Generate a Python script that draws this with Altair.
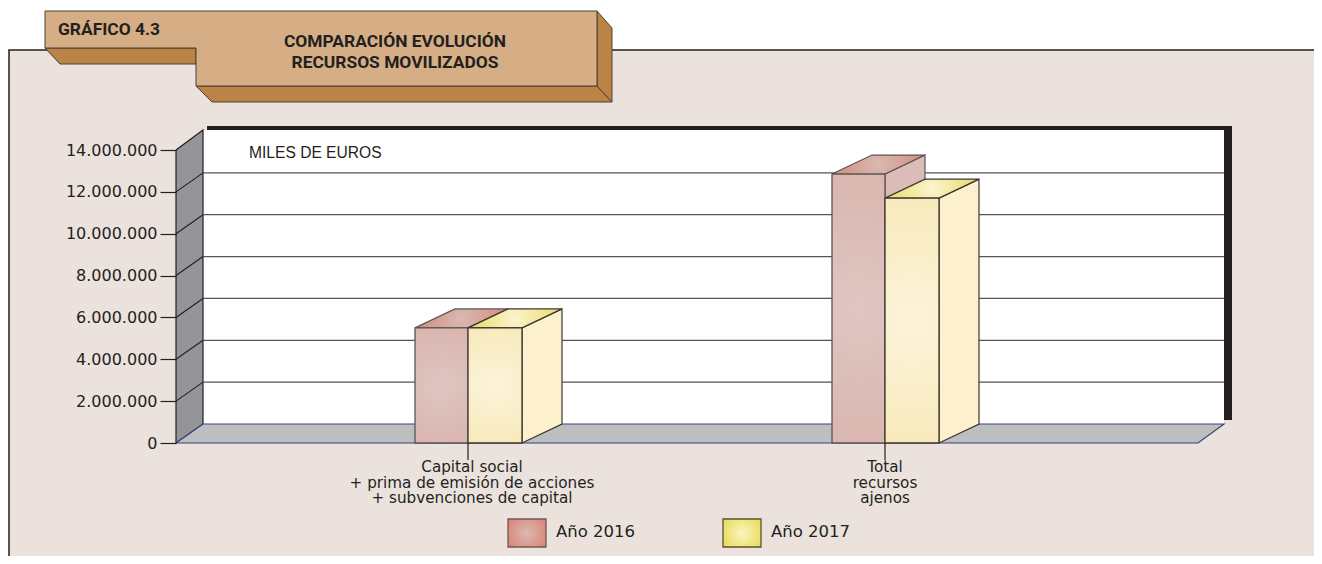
import altair as alt
import pandas as pd

# --- data -----------------------------------------------------------------
CATEGORY_LINES = [
    ["Capital social", "+ prima de emisión de acciones", "+ subvenciones de capital"],
    ["Total", "recursos", "ajenos"],
]
VALUES_2016 = [5500000, 12850000]
VALUES_2017 = [5500000, 11700000]
TICKS = [0, 2000000, 4000000, 6000000, 8000000, 10000000, 12000000, 14000000]

# --- layout ---------------------------------------------------------------
W, H = 1306, 548
Y0, Y14 = 443 - 8, 150 - 8
VMAX = 14000000
DX, DY = 40, 19           # bar depth
WDX, WDY = 27, 19         # wall depth
BAR_W = {2016: 53, 2017: 54}
CENTERS = [468, 885]
SANS = "DejaVu Sans"
TITLE = "Roboto"
INK = "#231f20"


def pv(py):
    """page y pixel to value units"""
    return (Y0 - (py - 8)) / (Y0 - Y14) * VMAX


def dv(d):
    return d / (Y0 - Y14) * VMAX


xs = alt.Scale(domain=[0, W], range=[0, W], nice=False, zero=False)
ys = alt.Scale(domain=[0, VMAX], range=[Y0, Y14], nice=False, zero=False)
YAX = alt.Axis(
    values=TICKS, orient="left", offset=-168, title=None, domain=False, grid=False,
    zindex=1, tickColor=INK, tickSize=16, tickWidth=1.2, labelPadding=3,
    labelFont=SANS, labelFontSize=16, labelColor=INK,
    labelExpr="replace(format(datum.value, ','), /,/g, '.')")
XE = lambda f="x": alt.X(f"{f}:Q", scale=xs, axis=None)
YE = lambda f="y": alt.Y(f"{f}:Q", scale=ys, axis=YAX)


def poly(pts, fill=None, stroke=None, sw=1.0, closed=True):
    """pts: (page x, value)"""
    rows = [{"x": p[0] - 8, "y": p[1], "i": i} for i, p in enumerate(pts)]
    if closed:
        rows.append({"x": pts[0][0] - 8, "y": pts[0][1], "i": len(pts)})
    kw = {"strokeWidth": sw, "stroke": stroke if stroke else "transparent"}
    if fill is not None:
        kw["fill"] = fill
    return alt.Chart(pd.DataFrame(rows)).mark_line(**kw).encode(
        x=XE(), y=YE(), order=alt.Order("i:Q"))


def page_poly(pts, **kw):
    return poly([(x, pv(y)) for x, y in pts], **kw)


def rect(x0, x1, v0, v1, fill, stroke=None, sw=1.0):
    df = pd.DataFrame([{"x": x0 - 8, "x2": x1 - 8, "y": v0, "y2": v1}])
    kw = {"fill": fill, "strokeWidth": sw}
    if stroke:
        kw["stroke"] = stroke
    return alt.Chart(df).mark_rect(**kw).encode(
        x=XE(), x2="x2:Q", y=YE(), y2="y2:Q")


def radial(center, edge):
    stops = [alt.GradientStop(offset=0, color=center),
             alt.GradientStop(offset=1, color=edge)]
    return alt.RadialGradient(gradient="radial", stops=stops,
                              x1=0.5, y1=0.5, x2=0.5, y2=0.5, r1=0, r2=0.7)


def text(rows, font=SANS, size=15.2, weight="normal", align="left", color=INK):
    df = pd.DataFrame([{"x": r[0] - 8, "y": pv(r[1]), "t": r[2]} for r in rows])
    return alt.Chart(df).mark_text(
        font=font, fontSize=size, fontWeight=weight, align=align,
        baseline="middle", color=color).encode(x=XE(), y=YE(), text="t:N")


layers = []

# panel
layers.append(page_poly([(9, 50), (1322, 50), (1322, 570), (9, 570)], fill="#ebe2de"))
layers.append(page_poly([(9, 570), (9, 50), (1322, 50)], stroke=INK, sw=1.5, closed=False))

# header plate
TAN, BROWN, EDGE = "#d5ae85", "#bb8345", "#4a4036"
layers.append(page_poly([(45, 48), (60, 64), (196, 64), (196, 48)], fill=BROWN, stroke=EDGE))
layers.append(page_poly([(196, 86), (212, 102), (612, 102), (597, 86)], fill=BROWN, stroke=EDGE))
layers.append(page_poly([(597, 11), (612, 28), (612, 102), (597, 86)], fill=BROWN, stroke=EDGE))
layers.append(page_poly([(45, 11), (597, 11), (597, 86), (196, 86), (196, 48), (45, 48)],
                        fill=TAN, stroke=EDGE))
layers.append(text([(58, 30, "GRÁFICO 4.3")], font=TITLE, size=17.4, weight="bold"))
layers.append(text([(395, 42, "COMPARACIÓN EVOLUCIÓN"), (395, 63, "RECURSOS MOVILIZADOS")],
                   font=TITLE, size=17.4, weight="bold", align="center"))

# 3D box
layers.append(rect(207, 1232, pv(420), pv(126), INK))
layers.append(rect(203, 1224, pv(424), pv(130), "#ffffff"))
layers.append(page_poly([(176, 150), (203, 130), (203, 424), (176, 443)],
                        fill="#939598", stroke=INK, sw=1.2))
layers.append(page_poly([(176, 443), (203, 424), (1224, 424), (1198, 443)],
                        fill="#bcbec0", stroke="#3f4277", sw=1.2))

# gridlines
tick_df = pd.DataFrame({"v": TICKS})
tick_df["back"] = tick_df["v"] + dv(WDY)
tick_df["x"] = 203 - 8
tick_df["x2"] = 1224 - 8
layers.append(alt.Chart(tick_df[tick_df.v.between(1, 13000000)]).mark_rule(
    color="#555555", strokeWidth=1.3).encode(x=XE(), x2="x2:Q", y=YE("back")))
for v in TICKS[1:-1]:
    layers.append(poly([(176, v), (203, v + dv(WDY))], stroke=INK, sw=1.1, closed=False))

layers.append(text([(249, 153, "MILES DE EUROS")], font="Liberation Sans", size=15.6))

# bars
STYLE = {
    2016: dict(front=radial("#dfc6c2", "#d8b0a8"), side="#dcbcb6",
               top=radial("#d9b9b2", "#d27a68"), stroke="#5a5556"),
    2017: dict(front=radial("#fcf3da", "#f7e7b0"), side="#fcf0cd",
               top=radial("#fbf4cf", "#e4cf3a"), stroke="#3a3633"),
}


def bar(xl, val, year):
    s = STYLE[year]
    xr = xl + BAR_W[year]
    d = dv(DY)
    out = [
        poly([(xr, 0), (xr + DX, d), (xr + DX, val + d), (xr, val)],
             fill=s["side"], stroke=s["stroke"], sw=1.2),
        poly([(xl, val), (xr, val), (xr + DX, val + d), (xl + DX, val + d)],
             fill=s["top"], stroke=s["stroke"], sw=1.2),
        rect(xl, xr, 0, val, s["front"], stroke=s["stroke"], sw=1.3),
    ]
    return out


for c, a, b in zip(CENTERS, VALUES_2016, VALUES_2017):
    layers += bar(c - BAR_W[2016], a, 2016)
    layers += bar(c, b, 2017)
    layers.append(page_poly([(c, 443), (c, 460)], stroke=INK, sw=1.2, closed=False))

# category labels
layers.append(text([(472, 467 + 15.7 * i, t) for i, t in enumerate(CATEGORY_LINES[0])],
                   align="center"))
layers.append(text([(885, 467 + 15.7 * i, t) for i, t in enumerate(CATEGORY_LINES[1])],
                   align="center"))

# legend
layers.append(rect(508, 546, pv(547), pv(519), radial("#dab9b2", "#d97b6a"),
                   stroke="#6e5a55", sw=1.3))
layers.append(rect(723, 761, pv(547), pv(519), radial("#faf5c0", "#e5d640"),
                   stroke="#5a5230", sw=1.3))
layers.append(text([(556, 532, "Año 2016"), (771, 532, "Año 2017")], size=16.5))

chart = alt.layer(*layers).properties(
    width=W, height=H,
    padding=0,
    autosize=alt.AutoSizeParams(type="none"),
    background="transparent",
).configure_view(stroke=None)

chart.save("out.html", embed_options={"renderer": "svg", "actions": False})
